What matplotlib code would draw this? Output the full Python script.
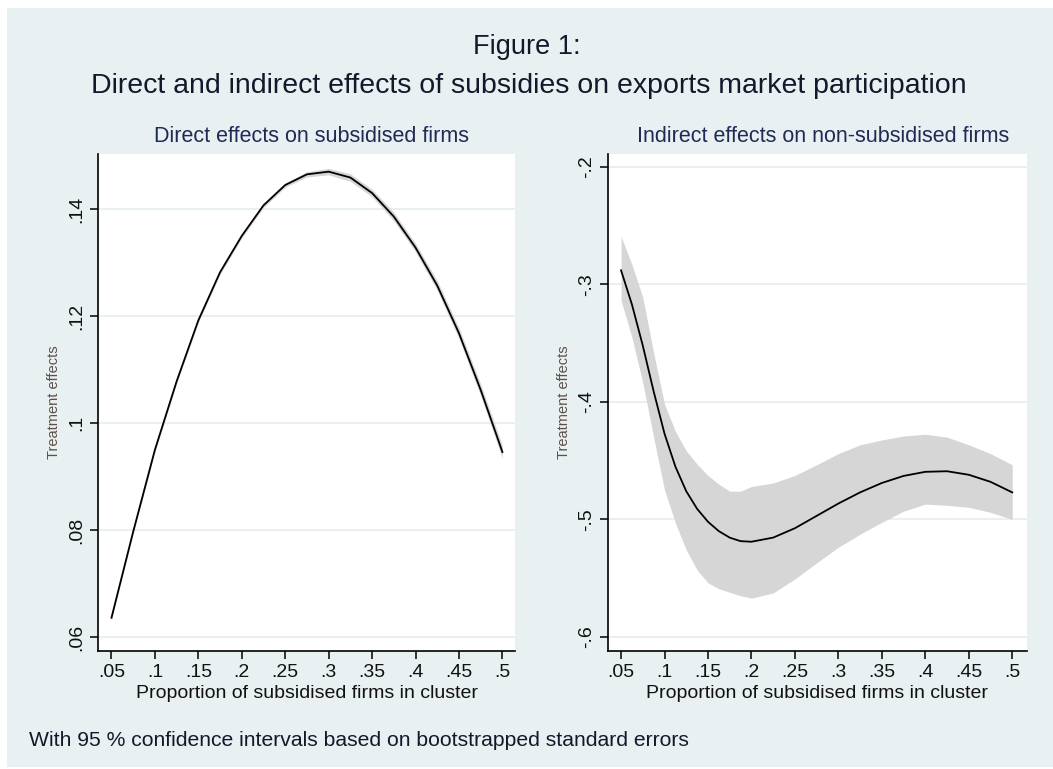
import numpy as np
import matplotlib
matplotlib.use('Agg')
from matplotlib import pyplot as plt
from matplotlib.patches import Rectangle

plt.rcParams['font.family'] = ['Liberation Sans', 'DejaVu Sans']

# share of subsidised firms in the cluster (left panel)
share_direct = [0.05, 0.075, 0.1, 0.125, 0.15, 0.175, 0.2, 0.225, 0.25, 0.275,
                0.3, 0.325, 0.35, 0.375, 0.4, 0.425, 0.45, 0.475, 0.5]

# direct effects on subsidised firms
direct = [0.0636, 0.0797, 0.0950, 0.1078, 0.1192, 0.1282, 0.1350, 0.1407, 0.1445, 0.1465,
          0.1470, 0.1459, 0.1430, 0.1386, 0.1328, 0.1257, 0.1168, 0.1062, 0.0946]
direct_lo = [0.0632, 0.0793, 0.0946, 0.1074, 0.1188, 0.1278, 0.1346, 0.1403, 0.1441, 0.1460,
             0.1464, 0.1452, 0.1423, 0.1378, 0.1320, 0.1248, 0.1158, 0.1051, 0.0934]
direct_hi = [0.0640, 0.0801, 0.0954, 0.1082, 0.1196, 0.1286, 0.1354, 0.1411, 0.1449, 0.1470,
             0.1476, 0.1466, 0.1437, 0.1394, 0.1336, 0.1266, 0.1178, 0.1073, 0.0958]

# share of subsidised firms in the cluster (right panel)
share_indirect = [0.05, 0.0625, 0.075, 0.0875, 0.1, 0.1125, 0.125, 0.1375, 0.15, 0.1625,
                  0.175, 0.1875, 0.2, 0.225, 0.25, 0.275, 0.3, 0.325, 0.35, 0.375,
                  0.4, 0.425, 0.45, 0.475, 0.5]

# indirect effects on non-subsidised firms
indirect = [-0.288, -0.317, -0.352, -0.391, -0.427, -0.455, -0.476, -0.491, -0.502, -0.510,
            -0.5155, -0.5185, -0.519, -0.5155, -0.5075, -0.497, -0.4865, -0.477, -0.469, -0.463,
            -0.4595, -0.459, -0.462, -0.468, -0.477]
indirect_lo = [-0.3137, -0.345, -0.3837, -0.430, -0.475, -0.503, -0.526, -0.543, -0.554, -0.559,
               -0.562, -0.565, -0.567, -0.5626, -0.5507, -0.537, -0.5237, -0.5126, -0.5025, -0.493,
               -0.487, -0.488, -0.4897, -0.494, -0.500]
indirect_hi = [-0.259, -0.283, -0.311, -0.358, -0.402, -0.425, -0.4416, -0.453, -0.4626, -0.470,
               -0.476, -0.476, -0.472, -0.469, -0.4626, -0.4535, -0.444, -0.4365, -0.4324, -0.429,
               -0.4275, -0.430, -0.4365, -0.444, -0.4535]

xticks = [0.05, 0.1, 0.15, 0.2, 0.25, 0.3, 0.35, 0.4, 0.45, 0.5]
xtick_labels = ['.05', '.1', '.15', '.2', '.25', '.3', '.35', '.4', '.45', '.5']
yticks_direct = [0.06, 0.08, 0.1, 0.12, 0.14]
ylabels_direct = ['.06', '.08', '.1', '.12', '.14']
yticks_indirect = [-0.6, -0.5, -0.4, -0.3, -0.2]
ylabels_indirect = ['-.6', '-.5', '-.4', '-.3', '-.2']

bg = '#E8F0F2'
W, H = 1053, 769

fig = plt.figure(figsize=(W / 100, H / 100), dpi=100, facecolor='white')
fig.patches.append(Rectangle((7 / W, 1 - 767 / H), 1 - 7 / W, (767 - 8) / H,
                             transform=fig.transFigure, facecolor=bg,
                             edgecolor='none', zorder=-10))

ax1 = fig.add_axes([98 / W, 1 - 651 / H, 417 / W, 497 / H])
ax2 = fig.add_axes([608 / W, 1 - 651 / H, 419 / W, 497 / H])

panels = [
    (ax1, share_direct, direct, direct_lo, direct_hi, yticks_direct, ylabels_direct,
     (0.0345, 0.5145), (0.0574, 0.1503), 'Direct effects on subsidised firms', 311),
    (ax2, share_indirect, indirect, indirect_lo, indirect_hi, yticks_indirect, ylabels_indirect,
     (0.035, 0.517), (-0.612, -0.189), 'Indirect effects on non-subsidised firms', 823),
]

for ax, x, y, lo, hi, yt, ytl, xl, yl, sub, subx in panels:
    ax.set_facecolor('white')
    ax.fill_between(x, lo, hi, color='#D6D6D6', lw=0, zorder=2)
    ax.plot(x, y, color='black', lw=1.3, zorder=3, solid_joinstyle='round')
    ax.set_xlim(*xl)
    ax.set_ylim(*yl)
    ax.set_xticks(xticks)
    ax.set_xticklabels(xtick_labels)
    ax.set_yticks(yt)
    ax.set_yticklabels(ytl, rotation=90, va='center')
    ax.grid(axis='y', color='#E4EEF0', lw=1.2, zorder=1)
    ax.set_axisbelow(True)
    for side in ['top', 'right']:
        ax.spines[side].set_visible(False)
    for side in ['left', 'bottom']:
        ax.spines[side].set_linewidth(1.2)
        ax.spines[side].set_color('black')
    ax.tick_params(length=5.5, width=1.1, color='black', labelsize=14,
                   labelcolor='#111111', pad=4)
    ax.text(0.5, -0.086, 'Proportion of subsidised firms in cluster',
            transform=ax.transAxes, ha='center', va='center', fontsize=14,
            color='#111111')
    ax.text(-0.106, 0.5, 'Treatment effects', transform=ax.transAxes,
            rotation=90, ha='center', va='center', fontsize=10.5, color='#5E5048')
    fig.text(subx / W, 1 - 137 / H, sub, ha='center', va='center',
             fontsize=15.5, color='#1F2A55')

fig.text(527 / W, 1 - 47 / H, 'Figure 1:', ha='center', va='center',
         fontsize=19.5, color='#15182A')
fig.text(529 / W, 1 - 86 / H,
         'Direct and indirect effects of subsidies on exports market participation',
         ha='center', va='center', fontsize=20.5, color='#15182A')
fig.text(29 / W, 1 - 741 / H,
         'With 95 % confidence intervals based on bootstrapped standard errors',
         ha='left', va='center', fontsize=15.2, color='#15182A')

fig.savefig('out.png', dpi=100, facecolor=fig.get_facecolor())
